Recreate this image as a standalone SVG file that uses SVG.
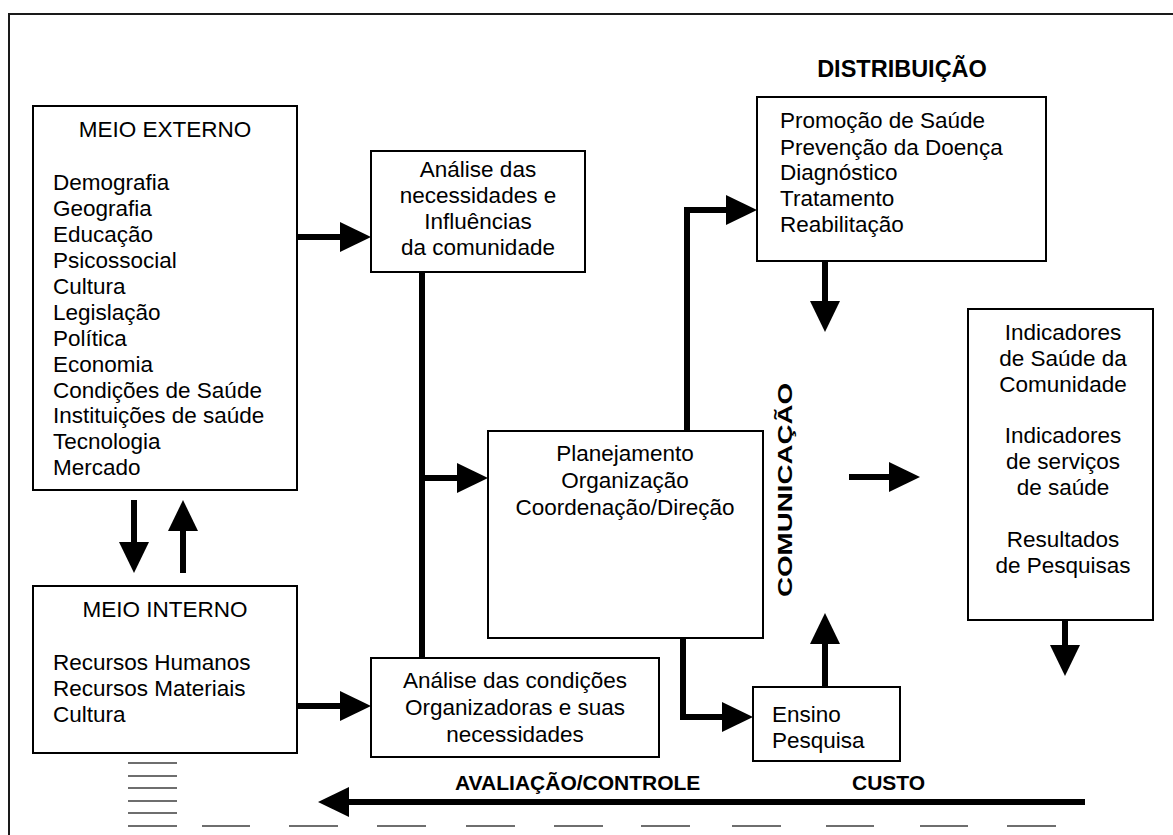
<svg xmlns="http://www.w3.org/2000/svg" width="1173" height="835" viewBox="0 0 1173 835">
<style>
.box{fill:#fff;stroke:#000;stroke-width:2}
.t{font-family:"Liberation Sans",Arial,sans-serif;font-size:22.5px;fill:#000}
.c{text-anchor:middle}
.b{font-family:"Liberation Sans",Arial,sans-serif;font-weight:bold;font-size:21px;fill:#000}
.ln{fill:none;stroke:#000;stroke-width:6}
.ar{marker-end:url(#ah)}
.g{stroke:#6e6e6e;stroke-width:2}
</style>
<defs>
<marker id="ah" markerUnits="userSpaceOnUse" markerWidth="32" markerHeight="32" viewBox="0 0 32 32" refX="1" refY="15" orient="auto">
<path d="M0,0 L31,15 L0,30 z" fill="#000"/>
</marker>
</defs>
<rect width="1173" height="835" fill="#fff"/>
<g id="frame">
<path d="M9,835 V14 H1173" fill="none" stroke="#1a1a1a" stroke-width="2"/>
</g>
<g id="meio-externo">
<rect class="box" x="33" y="106" width="264" height="384"/>
<text class="t c" x="165" y="137">MEIO EXTERNO</text>
<text class="t" x="53" y="190">Demografia</text>
<text class="t" x="53" y="216">Geografia</text>
<text class="t" x="53" y="242">Educação</text>
<text class="t" x="53" y="268">Psicossocial</text>
<text class="t" x="53" y="294">Cultura</text>
<text class="t" x="53" y="320">Legislação</text>
<text class="t" x="53" y="346">Política</text>
<text class="t" x="53" y="372">Economia</text>
<text class="t" x="53" y="398">Condições de Saúde</text>
<text class="t" x="53" y="423">Instituições de saúde</text>
<text class="t" x="53" y="449">Tecnologia</text>
<text class="t" x="53" y="475">Mercado</text>
</g>
<g id="meio-interno">
<rect class="box" x="33" y="586" width="264" height="167"/>
<text class="t c" x="165" y="617">MEIO INTERNO</text>
<text class="t" x="53" y="670">Recursos Humanos</text>
<text class="t" x="53" y="696">Recursos Materiais</text>
<text class="t" x="53" y="722">Cultura</text>
</g>
<g id="analise-necessidades">
<rect class="box" x="371" y="151" width="214" height="121"/>
<text class="t c" x="478" y="177">Análise das</text>
<text class="t c" x="478" y="203">necessidades e</text>
<text class="t c" x="478" y="229">Influências</text>
<text class="t c" x="478" y="255">da comunidade</text>
</g>
<g id="analise-condicoes">
<rect class="box" x="371" y="658" width="288" height="99"/>
<text class="t c" x="515" y="688">Análise das condições</text>
<text class="t c" x="515" y="715">Organizadoras e suas</text>
<text class="t c" x="515" y="742">necessidades</text>
</g>
<g id="planejamento">
<rect class="box" x="488" y="431" width="275" height="207"/>
<text class="t c" x="625" y="461">Planejamento</text>
<text class="t c" x="625" y="488">Organização</text>
<text class="t c" x="625" y="515">Coordenação/Direção</text>
</g>
<g id="distribuicao">
<text class="b c" x="902" y="77" style="font-size:23.5px">DISTRIBUIÇÃO</text>
<rect class="box" x="757" y="97" width="289" height="164"/>
<text class="t" x="780" y="128">Promoção de Saúde</text>
<text class="t" x="780" y="155">Prevenção da Doença</text>
<text class="t" x="780" y="180">Diagnóstico</text>
<text class="t" x="780" y="206">Tratamento</text>
<text class="t" x="780" y="232">Reabilitação</text>
</g>
<g id="comunicacao">
<text class="b" transform="translate(792,597) rotate(-90)" textLength="214" lengthAdjust="spacingAndGlyphs">COMUNICAÇÃO</text>
</g>
<g id="indicadores">
<rect class="box" x="968" y="309" width="185" height="311"/>
<text class="t c" x="1063" y="340">Indicadores</text>
<text class="t c" x="1063" y="366">de Saúde da</text>
<text class="t c" x="1063" y="392">Comunidade</text>
<text class="t c" x="1063" y="443">Indicadores</text>
<text class="t c" x="1063" y="469">de serviços</text>
<text class="t c" x="1063" y="495">de saúde</text>
<text class="t c" x="1063" y="547">Resultados</text>
<text class="t c" x="1063" y="573">de Pesquisas</text>
</g>
<g id="ensino">
<rect class="box" x="753" y="687" width="147" height="74"/>
<text class="t" x="772" y="722">Ensino</text>
<text class="t" x="772" y="748">Pesquisa</text>
</g>
<g id="labels">
<text class="b" x="455" y="790">AVALIAÇÃO/CONTROLE</text>
<text class="b" x="852" y="790">CUSTO</text>
</g>
<g id="connectors">
<path class="ln ar" d="M297,237 H341"/>
<path class="ln ar" d="M134,500 V543"/>
<path class="ln ar" d="M183,573 V530"/>
<path class="ln ar" d="M297,706 H341"/>
<path class="ln" d="M422,272 V658"/>
<path class="ln ar" d="M419,478 H458"/>
<path class="ln ar" d="M687,431 V210 H727"/>
<path class="ln ar" d="M825,261 V302"/>
<path class="ln ar" d="M683,638 V717 H723"/>
<path class="ln ar" d="M825,687 V643"/>
<path class="ln ar" d="M849,477 H890"/>
<path class="ln ar" d="M1065,620 V646"/>
<path class="ln ar" d="M1085,802 H348"/>
</g>
<g id="hatch">
<path class="g" d="M128,763 H177 M128,776 H177 M128,788 H177 M128,801 H177 M128,813 H177 M128,826 H177"/>
<path class="g" d="M202,826 H250 M289,826 H338 M377,826 H426 M466,826 H515 M554,826 H603 M641,826 H690 M732,826 H781 M826,826 H874 M920,826 H968 M1007,826 H1056"/>
</g>
</svg>
